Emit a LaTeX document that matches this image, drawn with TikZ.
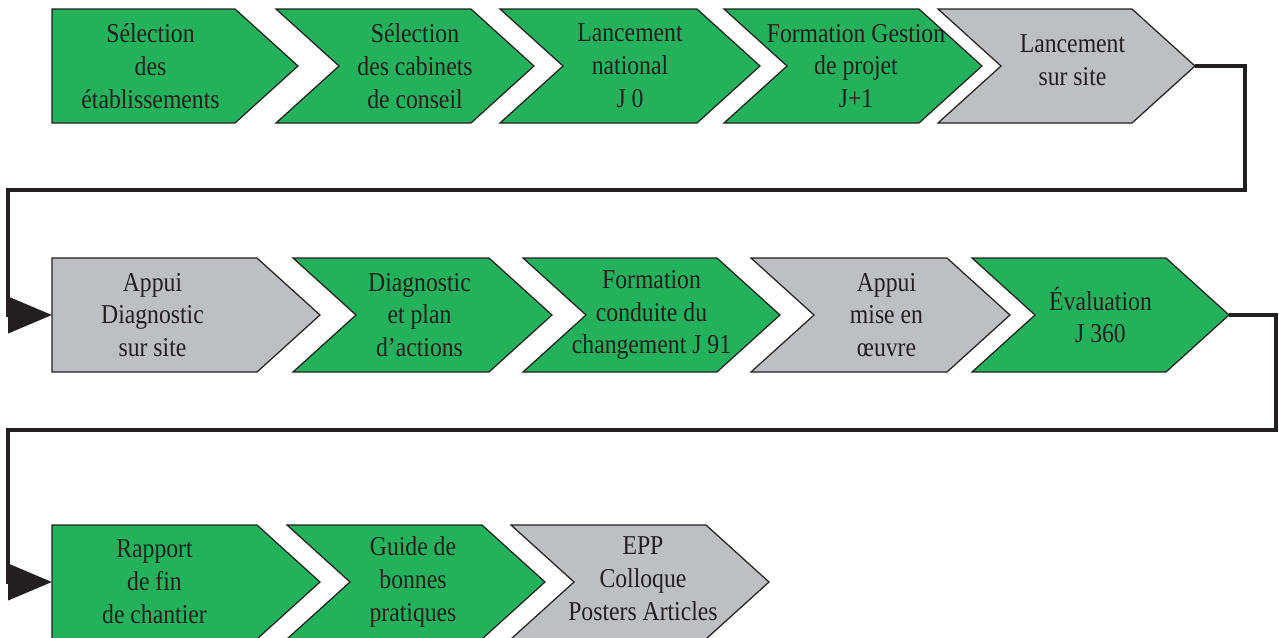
\documentclass[tikz,border=0pt]{standalone}
\usepackage{fontspec}
\setmainfont{Liberation Serif}[FakeStretch=0.87]
\usepackage{xcolor}
\usepackage{tikz}
\usetikzlibrary{arrows.meta, calc}

\definecolor{vertEtape}{RGB}{35,178,91}
\definecolor{grisEtape}{RGB}{190,191,195}
\definecolor{trait}{RGB}{35,31,32}

% une étape : nom, style, gauche, coin droit, haut, encoche, texte, décalage du texte
\newcommand{\etape}[8]{%
  \path[#2] (#3,#5) -- (#4,#5) -- ++(63,57) -- ++(-63,57) -- (#3,#5+114) -- ++(#6,-57) -- cycle;
  \coordinate (#1g) at (#3,#5+57);
  \coordinate (#1d) at (#4+63,#5+57);
  \node[texte, #8] (#1) at ({(#3+#4+#6)/2},#5+57) {#7};
}

\begin{document}
\begin{tikzpicture}[x=0.02cm, y=-0.02cm,
  vert/.style={fill=vertEtape, draw=trait, line width=0.7pt},
  gris/.style={fill=grisEtape, draw=trait, line width=0.7pt},
  texte/.style={align=center, inner sep=0pt, text=trait,
    font=\fontsize{15.5}{18.7}\selectfont},
  liaison/.style={draw=trait, line width=2.3pt,
    -{Triangle[length=0.88cm, width=0.72cm]}}]
  \clip (0,0) rectangle (1279,637);

  % Première ligne
  \etape{e1}{vert}{52}{235}{9}{0}{Sélection\\des\\établissements}{xshift=0.14cm}
  \etape{e2}{vert}{276}{471}{9}{63}{Sélection\\des cabinets\\de conseil}{xshift=0.2cm}
  \etape{e3}{vert}{500}{697}{9}{63}{Lancement\\national\\J 0}{}
  \etape{e4}{vert}{724}{919}{9}{63}{Formation Gestion\\de projet\\J+1}{xshift=0.06cm}
  \etape{e5}{gris}{938}{1132}{9}{63}{Lancement\\sur site}{xshift=0.12cm, yshift=0.12cm}

  % Deuxième ligne
  \etape{f1}{gris}{52}{257}{258}{0}{Appui\\Diagnostic\\sur site}{xshift=-0.04cm}
  \etape{f2}{vert}{293}{489}{258}{63}{Diagnostic\\et plan\\d’actions}{xshift=-0.06cm}
  \etape{f3}{vert}{523}{717}{258}{63}{Formation\\conduite du\\changement J 91}{}
  \etape{f4}{gris}{751}{947}{258}{63}{Appui\\mise en\\œuvre}{xshift=0.12cm}
  \etape{f5}{vert}{972}{1166}{258}{63}{Évaluation\\J 360}{}

  % Troisième ligne
  \etape{g1}{vert}{52}{257}{525}{0}{Rapport\\de fin\\de chantier}{}
  \etape{g2}{vert}{287}{482}{525}{63}{Guide de\\bonnes\\pratiques}{xshift=-0.06cm}
  \etape{g3}{gris}{511}{706}{525}{63}{EPP\\Colloque\\Posters Articles}{xshift=0.06cm, yshift=0.06cm}

  % Liaisons entre les lignes
  \draw[liaison] (e5d) -- ++(50,0) -- ++(0,124) -| ($(f1g)+(-44,0)$) -- (f1g);
  \draw[liaison] (f5d) -- ++(47,0) -- ++(0,115) -| ($(g1g)+(-44,0)$) -- (g1g);
\end{tikzpicture}
\end{document}
